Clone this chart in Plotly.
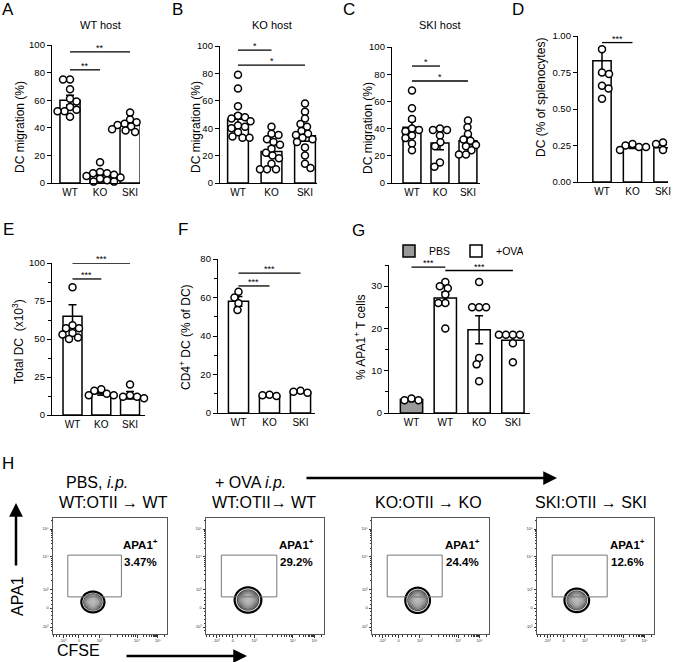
import numpy as np
import plotly.graph_objects as go

W, H = 681, 662

# ---------------- DATA ----------------
# Panel A - WT host, DC migration (%)
catsA = ["WT", "KO", "SKI"]
meanA = [60.0, 5.5, 42.0]
semA = [3.5, 1.4, 1.3]
ptsA_WT = [75, 75, 68, 61, 59, 55, 52, 48, 52, 53]
ptsA_KO = [15, 8, 7, 7, 6, 5, 4, 3, 2, 1, 1]
ptsA_SKI = [51, 46, 44, 43, 42, 41, 40, 40, 39, 38, 37]
sigA_from = [0, 0]; sigA_to = [1, 2]; sigA_y = [82, 95]; sigA_lab = ["**", "**"]

# Panel B - KO host
catsB = ["WT", "KO", "SKI"]
meanB = [46.5, 23.0, 34.5]
semB = [4.0, 3.5, 4.0]
ptsB_WT = [79, 69, 56, 49, 48, 47, 45, 42, 41, 40, 37, 33, 33, 34]
ptsB_KO = [41, 36, 35, 32, 30, 28, 25, 22, 20, 18, 14, 10, 10, 10]
ptsB_SKI = [58, 52, 47, 43, 41, 38, 36, 35, 33, 32, 30, 26, 20, 14, 11]
sigB_from = [0, 0]; sigB_to = [1, 2]; sigB_y = [97, 86]; sigB_lab = ["*", "*"]

# Panel C - SKI host
catsC = ["WT", "KO", "SKI"]
meanC = [41.0, 29.5, 31.0]
semC = [4.5, 5.0, 2.8]
ptsC_WT = [68, 55, 47, 40, 39, 38, 35, 33, 29, 24]
ptsC_KO = [40, 39, 39, 35, 30, 27, 15, 12]
ptsC_SKI = [46, 41, 36, 31, 28, 27, 24, 21, 21, 32]
sigC_from = [0, 0]; sigC_to = [1, 2]; sigC_y = [86, 75]; sigC_lab = ["*", "*"]

# Panel D - DC (% of splenocytes)
catsD = ["WT", "KO", "SKI"]
meanD = [0.83, 0.24, 0.235]
semD = [0.09, 0.01, 0.02]
ptsD_WT = [0.91, 0.75, 0.74, 0.66, 0.64, 0.57]
ptsD_KO = [0.26, 0.25, 0.24, 0.24, 0.22]
ptsD_SKI = [0.27, 0.26, 0.25, 0.22, 0.19]
sigD_from = [0, 0]; sigD_to = [1, 2]; sigD_y = [0.955, 1.03]; sigD_lab = ["***", "***"]

# Panel E - Total DC (x10^3)
catsE = ["WT", "KO", "SKI"]
meanE = [65.0, 14.0, 13.0]
semE = [7.5, 1.0, 2.5]
ptsE_WT = [84, 59, 57, 57, 54, 53, 51, 50]
ptsE_KO = [17, 16, 14, 13, 13]
ptsE_SKI = [20, 13, 12, 11, 12]
sigE_from = [0, 0]; sigE_to = [1, 2]; sigE_y = [89.5, 100]; sigE_lab = ["***", "***"]

# Panel F - CD4+ DC (% of DC)
catsF = ["WT", "KO", "SKI"]
meanF = [58.0, 9.0, 11.0]
semF = [2.5, 0.4, 0.5]
ptsF_WT = [63, 60, 57, 53.5]
ptsF_KO = [9.5, 9.2, 8.8]
ptsF_SKI = [11.5, 11.0, 10.5]
sigF_from = [0, 0]; sigF_to = [1, 2]; sigF_y = [66, 72.7]; sigF_lab = ["***", "***"]

# Panel G - % APA1+ T cells
catsG = ["WT", "WT", "KO", "SKI"]
groupG = ["PBS", "+OVA", "+OVA", "+OVA"]
meanG = [3.2, 27.2, 19.7, 17.2]
semG = [0.15, 1.4, 3.3, 1.0]
ptsG_PBS = [3.0, 3.4, 3.0]
ptsG_WT = [31, 29.5, 30, 28, 26, 26, 20]
ptsG_KO = [31, 25, 25, 25, 13, 11.5, 7.5]
ptsG_SKI = [18.5, 18.5, 18.5, 18.5, 16.5, 12]
sigG_from = [0, 1]; sigG_to = [1, 3]; sigG_y = [34.5, 33.7]; sigG_lab = ["***", "***"]

# Panel H - flow plots
flow_top = ["PBS, <i>i.p.</i>", "+ OVA <i>i.p.</i>", "", ""]
flow_titles = ["WT:OTII \u2192 WT", "WT:OTII\u2192 WT", "KO:OTII \u2192 KO", "SKI:OTII \u2192 SKI"]
flow_pct = ["3.47%", "29.2%", "24.4%", "12.6%"]
blob_cx = [0.35, 0.356, 0.39, 0.34]
blob_cy = [0.276, 0.293, 0.29, 0.29]
blob_sx = [0.052, 0.058, 0.054, 0.054]
blob_sy = [0.046, 0.056, 0.056, 0.052]
gate_x = [0.13, 0.60]
gate_y = [0.32, 0.68]
flow_xtick_lab = ["-10\u00b3", "0", "10\u00b3", "10\u2074", "10\u2075"]
flow_ytick_lab = ["-10\u00b3", "0", "10\u00b3", "10\u2074", "10\u2075"]

# ---------------- LAYOUT HELPERS ----------------
FONT = "Liberation Sans, Arial, sans-serif"
def PX(x): return x / W
def PY(y): return 1 - y / H

def axkey(n, l): return f"{l}axis" if n == 1 else f"{l}axis{n}"
def trkey(n, l): return l if n == 1 else f"{l}{n}"

fig = go.Figure()
layout = dict(template="none", width=W, height=H, margin=dict(l=0, r=0, t=0, b=0, pad=0),
              paper_bgcolor="white", plot_bgcolor="white",
              barmode="overlay", font=dict(family=FONT, color="black"),
              showlegend=True)
ann = []

def note(x, y, text, size, **kw):
    d = dict(x=PX(x), y=PY(y), xref="paper", yref="paper", text=text, showarrow=False,
             xanchor="center", yanchor="middle", font=dict(size=size, family=kw.pop("family", FONT)))
    d.update(kw)
    ann.append(d)

def beeswarm(vals, ypu, xpu, d=6.8):
    order = sorted(range(len(vals)), key=lambda i: -vals[i])
    placed = []
    offs = [0.0] * len(vals)
    for k, i in enumerate(order):
        yp = vals[i] * ypu
        best = 0.0
        for step in range(0, 400):
            sg = [1] if step == 0 else ([1, -1] if k % 2 == 0 else [-1, 1])
            found = False
            for s in sg:
                xo = s * step * 0.5
                if all((xo - a) ** 2 + (yp - b) ** 2 >= d * d for a, b in placed):
                    best = xo; found = True; break
            if found:
                break
        placed.append((best, yp))
        offs[i] = best / xpu
    return offs

panels = [
    dict(cats=catsA, mean=meanA, err=semA, pts=[ptsA_WT, ptsA_KO, ptsA_SKI], box=(52, 140, 45, 183),
         xr=(-0.6, 2.33), ymax=100, dtick=20, minor=None, fmt="", bw=0.67,
         sig=(sigA_from, sigA_to, sigA_y, sigA_lab), title="WT host", tpos=(100, 25),
         ytitle="DC migration (%)", ypos=(20, 127), letter="A", lpos=(8, 10)),
    dict(cats=catsB, mean=meanB, err=semB, pts=[ptsB_WT, ptsB_KO, ptsB_SKI], box=(220, 317, 46, 183),
         xr=(-0.537, 2.358), ymax=100, dtick=20, minor=None, fmt="", bw=0.62,
         sig=(sigB_from, sigB_to, sigB_y, sigB_lab), title="KO host", tpos=(272, 25),
         ytitle="DC migration (%)", ypos=(196, 127), letter="B", lpos=(177, 10)),
    dict(cats=catsC, mean=meanC, err=semC, pts=[ptsC_WT, ptsC_KO, ptsC_SKI], box=(392, 480, 47, 183),
         xr=(-0.714, 2.43), ymax=100, dtick=20, minor=None, fmt="", bw=0.64,
         sig=(sigC_from, sigC_to, sigC_y, sigC_lab), title="SKI host", tpos=(440, 25),
         ytitle="DC migration (%)", ypos=(368, 128), letter="C", lpos=(349, 10)),
    dict(cats=catsD, mean=meanD, err=semD, pts=[ptsD_WT, ptsD_KO, ptsD_SKI], box=(578, 668, 36, 182),
         xr=(-0.787, 2.164), ymax=1.0, dtick=0.25, minor=None, fmt=".2f", bw=0.6,
         sig=(sigD_from, sigD_to, sigD_y, sigD_lab), title=None, tpos=None,
         ytitle="DC (% of splenocytes)", ypos=(541, 98), letter="D", lpos=(518, 10)),
    dict(cats=catsE, mean=meanE, err=semE, pts=[ptsE_WT, ptsE_KO, ptsE_SKI], box=(52, 145, 263, 415),
         xr=(-0.713, 2.52), ymax=100, dtick=25, minor=12.5, fmt="", bw=0.66,
         sig=(sigE_from, sigE_to, sigE_y, sigE_lab), title=None, tpos=None,
         ytitle="Total DC  (x10<sup>3</sup>)", ypos=(18, 342), letter="E", lpos=(8, 229)),
    dict(cats=catsF, mean=meanF, err=semF, pts=[ptsF_WT, ptsF_KO, ptsF_SKI], box=(218, 315, 259, 413),
         xr=(-0.661, 2.468), ymax=80, dtick=20, minor=10, fmt="", bw=0.65,
         sig=(sigF_from, sigF_to, sigF_y, sigF_lab), title=None, tpos=None,
         ytitle="CD4<sup>+</sup> DC (% of DC)", ypos=(185, 337), letter="F", lpos=(183, 229)),
    dict(cats=catsG, mean=meanG, err=semG, pts=[ptsG_PBS, ptsG_WT, ptsG_KO, ptsG_SKI], box=(389, 530, 265, 413),
         xr=(-0.666, 3.506), ymax=35, dtick=10, minor=5, fmt="", bw=0.66,
         sig=(sigG_from, sigG_to, sigG_y, sigG_lab), title=None, tpos=None,
         ytitle="% APA1<sup>+</sup> T cells", ypos=(360, 337), letter="G", lpos=(358, 230)),
]

for n, p in enumerate(panels, start=1):
    x0, x1, yt, yb = p["box"]
    xa, ya = trkey(n, "x"), trkey(n, "y")
    k = len(p["cats"])
    xpu = (x1 - x0) / (p["xr"][1] - p["xr"][0])
    ypu = (yb - yt) / p["ymax"]
    layout[axkey(n, "x")] = dict(domain=[PX(x0), PX(x1)], range=list(p["xr"]), anchor=ya,
                                automargin=False,
                                showline=True, linecolor="black", linewidth=1.3, ticks="",
                                tickmode="array", tickvals=list(range(k)), ticktext=p["cats"],
                                tickfont=dict(size=10, family=FONT), showgrid=False, zeroline=False)
    yax = dict(domain=[PY(yb), PY(yt)], range=[0, p["ymax"]], anchor=xa, automargin=False,
               showline=True, linecolor="black", linewidth=1.3, ticks="outside", ticklen=4,
               tickwidth=1.3, tickcolor="black", dtick=p["dtick"], tick0=0, tickformat=p["fmt"],
               tickfont=dict(size=9.5, family=FONT), showgrid=False, zeroline=False)
    if p["minor"]:
        yax["minor"] = dict(ticks="outside", ticklen=2.5, tickwidth=1.2, tickcolor="black",
                            dtick=p["minor"], tick0=0, showgrid=False)
    layout[axkey(n, "y")] = yax

    if n == 7:
        fills = ["#999999" if g == "PBS" else "white" for g in groupG]
        for g in ["PBS", "+OVA"]:
            idx = [i for i in range(k) if groupG[i] == g]
            fig.add_trace(go.Bar(x=idx, y=[p["mean"][i] for i in idx], width=p["bw"], name=g,
                                 marker=dict(color=[fills[i] for i in idx], line=dict(color="black", width=1.5)),
                                 error_y=dict(type="data", array=[p["err"][i] for i in idx], color="black",
                                              thickness=1.5, width=4),
                                 xaxis=xa, yaxis=ya, showlegend=True))
    else:
        fig.add_trace(go.Bar(x=list(range(k)), y=p["mean"], width=p["bw"],
                             marker=dict(color="white", line=dict(color="black", width=1.5)),
                             error_y=dict(type="data", array=p["err"], color="black", thickness=1.5, width=4),
                             xaxis=xa, yaxis=ya, showlegend=False))
    for i, vals in enumerate(p["pts"]):
        offs = beeswarm(vals, ypu, xpu)
        fig.add_trace(go.Scatter(x=[i + o for o in offs], y=vals, mode="markers", cliponaxis=False,
                                 marker=dict(symbol="circle", size=7, color="white",
                                             line=dict(color="black", width=1.5)),
                                 xaxis=xa, yaxis=ya, showlegend=False, hoverinfo="skip"))
    sf, st, sy, sl = p["sig"]
    for a, b, yv, lab in zip(sf, st, sy, sl):
        fig.add_trace(go.Scatter(x=[a, b], y=[yv, yv], mode="lines", cliponaxis=False,
                                 line=dict(color="black", width=1.3), xaxis=xa, yaxis=ya,
                                 showlegend=False, hoverinfo="skip"))
        ann.append(dict(x=(a + b) / 2, y=yv, xref=xa, yref=ya, text=lab, showarrow=False,
                        xanchor="center", yanchor="bottom", yshift=-3, font=dict(size=9, family=FONT)))
    if p["title"]:
        note(p["tpos"][0], p["tpos"][1], p["title"], 11)
    note(p["ypos"][0], p["ypos"][1], p["ytitle"], 12, textangle=-90)
    note(p["lpos"][0], p["lpos"][1], p["letter"], 17)

layout["legend"] = dict(orientation="h", x=PX(389), y=PY(251), xanchor="left", yanchor="middle",
                        font=dict(size=10.5, family=FONT), bgcolor="rgba(0,0,0,0)",
                        itemwidth=30, tracegroupgap=0, entrywidth=22)

# ---------------- FLOW PANELS ----------------
flow_boxes = [(53, 167), (206, 324), (372, 489), (537, 654)]
flow_yb = (518, 634)
xt_pos = [0.088, 0.228, 0.41, 0.737, 0.92]
yt_pos = [0.06, 0.224, 0.38, 0.664, 0.905]
def minor_positions(pos):
    m = []
    for a, b in [(pos[2], pos[3]), (pos[3], pos[4])]:
        m += [a + (b - a) * np.log10(q) for q in range(2, 10)]
    for a, b in [(pos[0], pos[1]), (pos[1], pos[2])]:
        m += [a + (b - a) * q / 5 for q in range(1, 5)]
    m += [pos[4] + (pos[4] - pos[3]) * np.log10(q) for q in range(2, 10) if pos[4] + (pos[4] - pos[3]) * np.log10(q) < 1]
    m += [pos[0] - (pos[1] - pos[0]) * q / 5 for q in range(1, 5) if pos[0] - (pos[1] - pos[0]) * q / 5 > 0]
    return m

gx = np.linspace(0, 1, 201)
gy = np.linspace(0, 1, 201)
GX, GY = np.meshgrid(gx, gy)
cs = [[0, "white"], [0.12, "white"], [0.13, "#1c1c1c"], [0.35, "#444444"], [0.65, "#7c7c7c"], [1, "#b4b4b4"]]

for k in range(4):
    n = 8 + k
    xa, ya = trkey(n, "x"), trkey(n, "y")
    bx0, bx1 = flow_boxes[k]
    common = dict(showline=True, mirror=True, linecolor="#555", linewidth=1, ticks="outside",
                  ticklen=2.5, tickwidth=0.8, tickcolor="#333", showgrid=False, zeroline=False,
                  automargin=False,
                  range=[0, 1], tickmode="array", tickfont=dict(size=4, family=FONT, color="#333"))
    layout[axkey(n, "x")] = dict(common, domain=[PX(bx0), PX(bx1)], anchor=ya,
                                tickvals=xt_pos, ticktext=flow_xtick_lab,
                                minor=dict(ticks="outside", ticklen=1.5, tickwidth=0.6, tickcolor="#333",
                                           tickmode="array", tickvals=minor_positions(xt_pos)))
    layout[axkey(n, "y")] = dict(common, domain=[PY(flow_yb[1]), PY(flow_yb[0])], anchor=xa,
                                tickvals=yt_pos, ticktext=flow_ytick_lab,
                                minor=dict(ticks="outside", ticklen=1.5, tickwidth=0.6, tickcolor="#333",
                                           tickmode="array", tickvals=minor_positions(yt_pos)))
    Z = np.exp(-0.5 * (((GX - blob_cx[k]) / blob_sx[k]) ** 2 + ((GY - blob_cy[k]) / blob_sy[k]) ** 2))
    fig.add_trace(go.Contour(x=gx, y=gy, z=Z, zmin=0, zmax=1, colorscale=cs, showscale=False,
                             contours=dict(start=0.15, end=0.95, size=0.1, coloring="fill"),
                             line=dict(color="#e0e0e0", width=0.5), xaxis=xa, yaxis=ya,
                             hoverinfo="skip", showlegend=False))
    fig.add_trace(go.Contour(x=gx, y=gy, z=Z, showscale=False,
                             contours=dict(start=0.15, end=0.15, size=1, coloring="none"),
                             line=dict(color="black", width=2.2), xaxis=xa, yaxis=ya,
                             hoverinfo="skip", showlegend=False))
    fig.add_trace(go.Scatter(x=[gate_x[0], gate_x[1], gate_x[1], gate_x[0], gate_x[0]],
                             y=[gate_y[0], gate_y[0], gate_y[1], gate_y[1], gate_y[0]],
                             mode="lines", line=dict(color="#777", width=1), xaxis=xa, yaxis=ya,
                             showlegend=False, hoverinfo="skip"))
    cxp = bx0 + 0.77 * (bx1 - bx0)
    note(cxp, 544, "<b>APA1<sup>+</sup></b>", 11.5)
    note(cxp, 562, "<b>" + flow_pct[k] + "</b>", 11.5)

title_cx = [113, 264, 428, 591]
for k in range(4):
    note(title_cx[k], 502, flow_titles[k], 16)
note(97, 482, flow_top[0], 16)
note(250, 482, flow_top[1], 16)
note(8, 463, "H", 17)
note(17, 596, "APA1", 16, textangle=-90)
note(78, 650, "CFSE", 16)
# arrows
def arrow(x, y, ax, ay):
    ann.append(dict(x=PX(x), y=PY(y), xref="paper", yref="paper", text="", showarrow=True,
                    ax=ax, ay=ay, arrowhead=2, arrowsize=1.1, arrowwidth=2.5, arrowcolor="black"))
arrow(557, 478, -252, 0)
arrow(16, 503, 0, 64)
arrow(247, 656, -122, 0)

layout["annotations"] = ann
fig.update_layout(**layout)
fig.write_html("out.html", config={"displayModeBar": False},
               post_script="document.body.style.margin='0px';document.body.style.padding='0px';")
